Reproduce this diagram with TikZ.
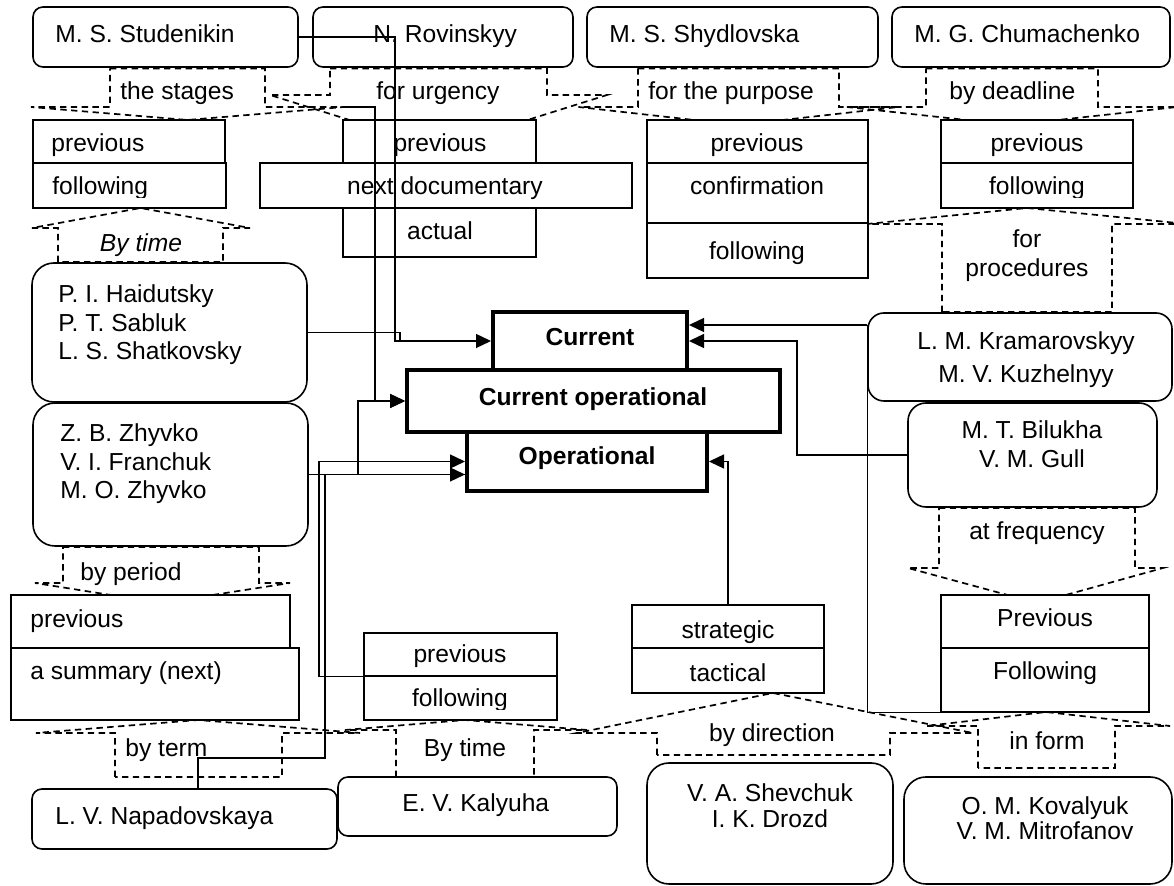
\documentclass[tikz,border=0pt]{standalone}
\usepackage{fontspec}
\setmainfont{Liberation Sans}
\usetikzlibrary{arrows.meta,fit}
\newcommand\fs{\fontsize{12.3}{14}\selectfont}
\tikzset{
  box/.style={draw, line width=0.8pt, fill=white, inner sep=0pt},
  rbox/.style={box, rounded corners=5pt},
  bigr/.style={box, rounded corners=11pt},
  core/.style={draw, line width=2pt, fill=white, inner sep=0pt},
  callout/.style={draw, dash pattern=on 3.2pt off 2.2pt, line width=0.85pt},
  wire/.style={line width=0.65pt},
  arrowed/.style={wire, -{Triangle[length=7.5pt,width=7pt]}},
  txt/.style={inner sep=0pt, font=\fs},
  lt/.style={txt, anchor=base west},
  ct/.style={txt, anchor=base},
}
\begin{document}
\begin{tikzpicture}[x=0.5pt, y=-0.5pt]
\useasboundingbox (0,0) rectangle (1174,886);
\fill[white] (0,0) rectangle (1174,886);

% ---- classification callouts (dashed) ----
% pointing down
\draw[callout] (110,68.5) -- (265,68.5) -- (265,107) -- (344,107) -- (187.5,120) -- (31,107) -- (110,107) -- cycle;
\draw[callout] (330,68.5) -- (547,68.5) -- (547,95) -- (607,95) -- (438.5,148) -- (270,95) -- (330,95) -- cycle;
\draw[callout] (638,68.5) -- (839,68.5) -- (839,107) -- (898.5,107) -- (738.5,125) -- (578.5,107) -- (638,107) -- cycle;
\draw[callout] (926,68.5) -- (1098,68.5) -- (1098,107) -- (1177,107) -- (1012,125) -- (847,107) -- (926,107) -- cycle;
\draw[callout] (63,547) -- (259,547) -- (259,583) -- (290,583) -- (161,603) -- (35,583) -- (63,583) -- cycle;
\draw[callout] (939,508) -- (1135,508) -- (1135,568) -- (1163,568) -- (1037,603) -- (908,568) -- (939,568) -- cycle;
% pointing up
\draw[callout] (58,262) -- (58,228) -- (32,228) -- (140.5,208) -- (250,228) -- (223,228) -- (223,262) -- cycle;
\draw[callout] (942,312) -- (942,224) -- (867,224) -- (1027,208) -- (1187,224) -- (1112,224) -- (1112,312) -- cycle;
\draw[callout] (115,777) -- (115,733) -- (36,733) -- (198,720) -- (360,733) -- (282,733) -- (282,777) -- cycle;
\draw[callout] (396,777) -- (396,730) -- (345,730) -- (465,720) -- (587,730) -- (534,730) -- (534,777) -- cycle;
\draw[callout] (657,755) -- (657,733) -- (577,733) -- (773,693) -- (973,733) -- (890,733) -- (890,755) -- cycle;
\draw[callout] (978,768) -- (978,726) -- (926,726) -- (1046,712) -- (1170,726) -- (1115,726) -- (1115,768) -- cycle;

% ---- authors ----
\node[rbox, fit={(33,7) (298,67)}] (stud) {};
\node[rbox, fit={(313,7) (573,67)}] (rovin) {};
\node[rbox, fit={(587,7) (878,67)}] (shyd) {};
\node[rbox, fit={(892,7) (1170,67)}] (chum) {};
\node[bigr, fit={(32,263) (307,402)}] (haid) {};
\node[bigr, fit={(33,403) (308,546)}] (zhyv) {};
\node[box, rounded corners=8pt, fit={(868,313) (1172,401)}] (kram) {};
\node[box, rounded corners=9pt, fit={(908,403) (1157,507)}] (bilu) {};
\node[rbox, fit={(32,789) (337,849)}] (napa) {};
\node[rbox, fit={(338,777) (617,836)}] (kaly) {};
\node[bigr, fit={(647,763) (893,884)}] (shev) {};
\node[bigr, fit={(904,777) (1172,884)}] (kova) {};

% ---- kinds ----
\node[box, fit={(33,120) (225,163)}] (stPrev) {};
\node[box, fit={(33,163) (226,208)}] (stFoll) {};
\node[box, fit={(343,120) (536,163)}] (urPrev) {};
\node[box, fit={(343,208) (536,257)}] (urAct) {};
\node[box, fit={(260,163) (632,208)}] (urNext) {};
\node[box, fit={(647,120) (868,163)}] (puPrev) {};
\node[box, fit={(647,163) (868,223)}] (puConf) {};
\node[box, fit={(647,223) (868,278)}] (puFoll) {};
\node[box, fit={(941,120) (1133,163)}] (dlPrev) {};
\node[box, fit={(941,163) (1133,208)}] (dlFoll) {};
\node[box, fit={(11,595) (290,648)}] (pePrev) {};
\node[box, fit={(11,648) (299,720)}] (peSum) {};
\node[box, fit={(364,633) (557,676)}] (kaPrev) {};
\node[box, fit={(364,676) (557,720)}] (kaFoll) {};
\node[box, fit={(632,605) (824,648)}] (strat) {};
\node[box, fit={(632,648) (824,693)}] (tact) {};
\node[box, fit={(941,595) (1149,648)}] (frPrev) {};
\node[box, fit={(941,648) (1149,712)}] (frFoll) {};

% ---- core boxes ----
\node[core, fit={(493,312) (687,370)}] (cur) {};
\node[core, fit={(467,432) (707,491)}] (oper) {};
\node[core, fit={(407,370) (780,432)}] (curop) {};

% ---- texts ----
\node[lt] (tStud) at (55,43) {M. S. Studenikin};
\node[lt] (tRov) at (373,43) {N. Rovinskyy};
\node[lt] (tShyd) at (609,43) {M. S. Shydlovska};
\node[lt] (tChum) at (914,43) {M. G. Chumachenko};
\node[lt] (tStages) at (120,100) {the stages};
\node[lt] (tUrg) at (376,100) {for urgency};
\node[lt] (tPurp) at (648,100) {for the purpose};
\node[lt] (tDead) at (949,100) {by deadline};
\node[lt] (tStPrev) at (51,152) {previous};
\node[ct] (tUrPrev) at (440,152) {previous};
\node[ct] (tUrNext) at (445,195) {next documentary};
\node[ct] (tUrAct) at (440,240) {actual};
\node[ct] (tPuPrev) at (757,152) {previous};
\node[ct] (tPuConf) at (757,195) {confirmation};
\node[ct] (tPuFoll) at (757,260) {following};
\node[ct] (tDlPrev) at (1037,152) {previous};
\begin{scope}
  \clip (0,0) rectangle (1174,198);
  \node[lt] (tStFoll) at (52,195) {following};
  \node[ct] (tDlFoll) at (1037,195) {following};
\end{scope}
\node[ct, font=\fs\itshape] (tByTime) at (141,252) {By time};
\node[ct] (tFor) at (1027,248) {for};
\node[ct] (tProc) at (1027,277) {procedures};
\node[lt] (tHai1) at (58,303) {P. I. Haidutsky};
\node[lt] (tHai2) at (58,332) {P. T. Sabluk};
\node[lt] (tHai3) at (58,360) {L. S. Shatkovsky};
\node[lt] (tZhy1) at (60,442) {Z. B. Zhyvko};
\node[lt] (tZhy2) at (60,471) {V. I. Franchuk};
\node[lt] (tZhy3) at (60,499) {M. O. Zhyvko};
\node[lt] (tPeriod) at (80,581) {by period};
\node[lt] (tPePrev) at (30,628) {previous};
\node[lt] (tPeSum) at (30,680) {a summary (next)};
\node[lt] (tTerm) at (125,757) {by term};
\node[lt] (tNapa) at (55,825) {L. V. Napadovskaya};
\node[lt] (tKaly) at (402,812) {E. V. Kalyuha};
\node[ct] (tKaPrev) at (460,663) {previous};
\begin{scope}
  \clip (0,0) rectangle (1174,710);
  \node[ct] (tKaFoll) at (460,707) {following};
\end{scope}
\node[ct] (tByTime2) at (465,757) {By time};
\node[ct] (tStrat) at (728,639) {strategic};
\node[ct] (tTact) at (728,682) {tactical};
\node[ct] (tDir) at (772,742) {by direction};
\node[ct] (tShev1) at (770,802) {V. A. Shevchuk};
\node[ct] (tShev2) at (770,828) {I. K. Drozd};
\node[ct] (tFrPrev) at (1045,627) {Previous};
\node[ct] (tFrFoll) at (1045,680) {Following};
\node[ct] (tForm) at (1047,750) {in form};
\node[ct] (tKov1) at (1045,815) {O. M. Kovalyuk};
\node[ct] (tKov2) at (1045,840) {V. M. Mitrofanov};
\node[ct] (tKra1) at (1026,350) {L. M. Kramarovskyy};
\node[ct] (tKra2) at (1026,383) {M. V. Kuzhelnyy};
\node[ct] (tBil1) at (1032,439) {M. T. Bilukha};
\node[ct] (tBil2) at (1032,468) {V. M. Gull};
\node[ct] (tFreq) at (1037,540) {at frequency};
\node[ct, font=\fs\bfseries] (tCur) at (590,346) {Current};
\node[ct, font=\fs\bfseries] (tCurOp) at (593,406) {Current operational};
\node[ct, font=\fs\bfseries] (tOper) at (587,465) {Operational};

% ---- connectors ----
\coordinate (urgOut) at (343,107);
\draw[arrowed] (stud.east) -| (395,341) -- (cur.west);
\draw[wire] (haid.east) -| (400,341);
\draw[arrowed] (urgOut) -| (375,401) -- (curop.west);
\draw[arrowed] (zhyv.east) -| (358,401) -- (curop.west);
\draw[arrowed] (zhyv.east) -- (zhyv.east -| oper.west);
\draw[arrowed] (kaPrev.south west) -| (319,461.5) -- (oper.west);
\draw[wire] ([xshift=6.75pt]napa.north) |- (325,758) |- (zhyv.east -| oper.west);
\draw[arrowed] ([yshift=16pt]kram.west) -- ([yshift=8pt]cur.east);
\draw[arrowed] (bilu.west) -| (797,341) -- (cur.east);
\draw[wire] (frFoll.south west) -| ([yshift=16pt]kram.west);
\draw[arrowed] (strat.north) |- (oper.east);
\end{tikzpicture}
\end{document}
